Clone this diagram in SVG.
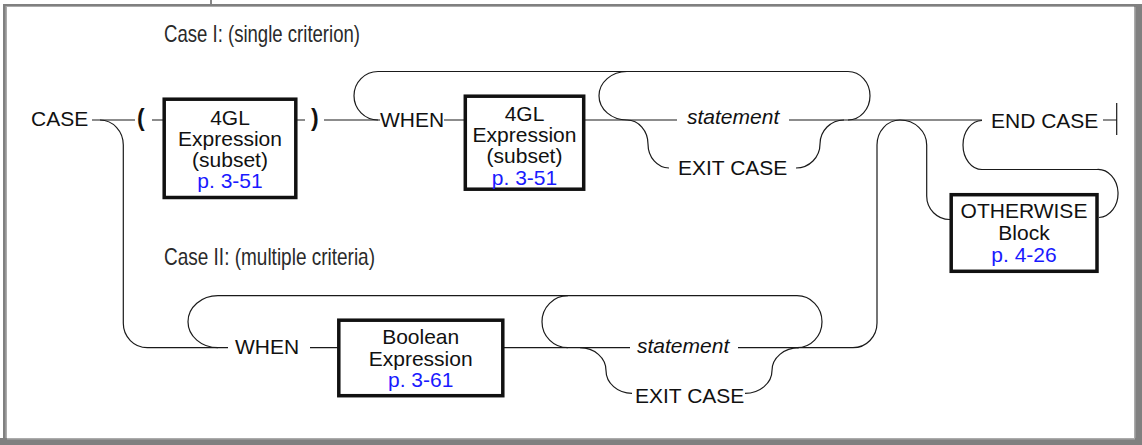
<svg xmlns="http://www.w3.org/2000/svg" width="1142" height="445" viewBox="0 0 1142 445">
<style>
.ln{fill:none;stroke:#1a1a1a;stroke-width:1.2}
.box{fill:#fff;stroke:#111;stroke-width:3.5}
.t{font-family:'Liberation Sans',Arial,sans-serif;font-size:21px;fill:#111}
.c{text-anchor:middle}
.lk{fill:#1a1aff}
.it{font-style:italic}
.par{font-family:'Liberation Sans',Arial,sans-serif;font-size:23px;font-weight:bold;fill:#111}
.cap{font-family:'Liberation Sans Narrow','Liberation Sans',Arial,sans-serif;font-size:24px;fill:#2a2a2a}
.fr{fill:#808080}
.frl{fill:#ababab}
</style>
<rect width="1142" height="445" fill="#fff"/>
<g id="frame">
<rect class="fr" x="3" y="4" width="1139" height="3"/>
<rect class="frl" x="7" y="6" width="1127" height="1"/>
<rect class="fr" x="3" y="4" width="4" height="441"/>
<rect class="frl" x="5.5" y="6" width="1.5" height="432"/>
<rect class="fr" x="1134" y="6" width="8" height="439"/>
<rect class="frl" x="1134" y="7" width="1.5" height="431"/>
<rect class="fr" x="0" y="438" width="1142" height="7"/>
<rect class="frl" x="7" y="438" width="1128" height="1.5"/>
<line x1="211" y1="0" x2="211" y2="4" stroke="#111" stroke-width="1"/>
</g>
<g id="titles">
<text class="cap" x="164" y="42" textLength="196" lengthAdjust="spacingAndGlyphs">Case I: (single criterion)</text>
<text class="cap" x="164" y="265" textLength="211" lengthAdjust="spacingAndGlyphs">Case II: (multiple criteria)</text>
</g>
<g id="connectors">
<path class="ln" d="M92,120 H135 M152,120 H164 M297,120 H305 M324,120 H380 M444,120 H465 M584,120 H677 M789,120 H982"/>
<path class="ln" d="M378,120 A24,24.25 0 0 1 378,71.5 H848 A22,24.25 0 0 1 848,120"/>
<path class="ln" d="M627,120 A28,24.25 0 0 1 627,71.5"/>
<path class="ln" d="M627,120 A21,24 0 0 1 648,144 A21,24 0 0 0 669,168"/>
<path class="ln" d="M796,168 A24,24 0 0 0 820,144 A24,24 0 0 1 844,120"/>
<path class="ln" d="M100,120 A23.3,25 0 0 1 123.3,145 V323.3 A24,24.4 0 0 0 147.3,347.7 H228"/>
<path class="ln" d="M310,347.7 H339 M503,347.7 H630 M738,347.7 H853 A24,24.7 0 0 0 877,323 V145 A23,25 0 0 1 900,120 A26.7,25 0 0 1 926.7,145 V196 A23,23.5 0 0 0 950,219.5"/>
<path class="ln" d="M218,347.7 A30,26 0 0 1 218,295.7 H797 A25,26 0 0 1 797,347.7"/>
<path class="ln" d="M568,347.7 A26,26 0 0 1 568,295.7"/>
<path class="ln" d="M580,347.7 A26,22.8 0 0 1 606,370.5 A26,22.8 0 0 0 632,393.3"/>
<path class="ln" d="M745,393.3 A27,22.8 0 0 0 772,370.5 A27,22.8 0 0 1 799,347.7"/>
<path class="ln" d="M1099,217.5 A20,24 0 0 0 1097,169.5 H982 A19,24.5 0 0 1 982,120.5"/>
<path class="ln" d="M1103,120 H1116.7 M1116.7,103 V135"/>
</g>
<g id="case"><text class="t" x="31" y="126">CASE</text></g>
<g id="lparen"><text class="par" x="137" y="126">(</text></g>
<g id="expr1">
<rect class="box" x="164.2" y="99.2" width="131.6" height="98.3"/>
<text class="t c" x="230" y="125">4GL</text>
<text class="t c" x="230" y="146">Expression</text>
<text class="t c" x="230" y="167">(subset)</text>
<text class="t c lk" x="230" y="188">p. 3-51</text>
</g>
<g id="rparen"><text class="par" x="311" y="126">)</text></g>
<g id="when1"><text class="t" x="380" y="127">WHEN</text></g>
<g id="expr2">
<rect class="box" x="465.3" y="96.2" width="118.4" height="93"/>
<text class="t c" x="524.5" y="121">4GL</text>
<text class="t c" x="524.5" y="142">Expression</text>
<text class="t c" x="524.5" y="163">(subset)</text>
<text class="t c lk" x="524.5" y="184.5">p. 3-51</text>
</g>
<g id="statement1"><text class="t it" x="687" y="124">statement</text></g>
<g id="exit1"><text class="t" x="678" y="175">EXIT CASE</text></g>
<g id="endcase"><text class="t" x="991" y="127.5">END CASE</text></g>
<g id="otherwise">
<rect class="box" x="951.2" y="194.7" width="145.8" height="76.6"/>
<text class="t c" x="1024" y="218.3">OTHERWISE</text>
<text class="t c" x="1024" y="240">Block</text>
<text class="t c lk" x="1024" y="261.7">p. 4-26</text>
</g>
<g id="when2"><text class="t" x="235" y="354.3">WHEN</text></g>
<g id="boolexpr">
<rect class="box" x="338.8" y="320.2" width="164" height="75.5"/>
<text class="t c" x="420.7" y="344.3">Boolean</text>
<text class="t c" x="420.7" y="366">Expression</text>
<text class="t c lk" x="420.7" y="387.3">p. 3-61</text>
</g>
<g id="statement2"><text class="t it" x="637" y="353.3">statement</text></g>
<g id="exit2"><text class="t" x="635" y="402.7">EXIT CASE</text></g>
</svg>
